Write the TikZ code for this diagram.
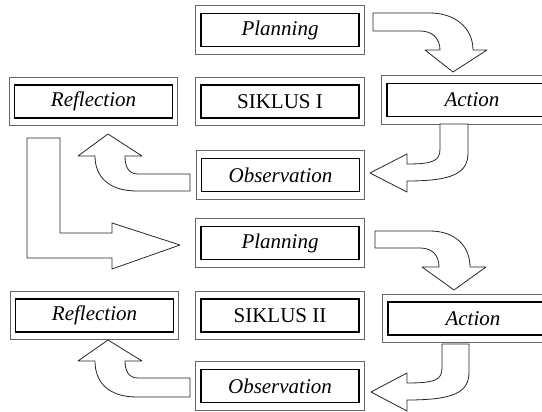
\documentclass[tikz,border=0pt]{standalone}
\usepackage{fontspec}
\setmainfont{Liberation Serif}
\begin{document}
\begin{tikzpicture}[x=1pt,y=-1pt,
  inbox/.style={draw=black, line width=1.1pt, minimum width=158pt, minimum height=33pt,
    inner sep=0pt, font=\fontsize{21}{25}\selectfont\itshape},
  upbox/.style={inbox, font=\fontsize{21}{25}\selectfont\upshape},
  outframe/.style={draw=black!60, line width=1pt},
  fat/.style={draw=black!85, line width=0.8pt, fill=white, line join=round}]
\useasboundingbox (0,0) rectangle (542,412);
\clip (0,0) rectangle (542,412);

% boxes
\node[inbox] (p1) at (280,30) {Planning};
\node[upbox] (s1) at (280,101.5) {SIKLUS I};
\node[inbox] (o1) at (280.5,175) {Observation};
\node[inbox] (p2) at (280,243) {Planning};
\node[upbox] (s2) at (280,315.5) {SIKLUS II};
\node[inbox] (o2) at (280,386) {Observation};
\node[inbox] (r1) at (93.5,101.5) {Reflection};
\node[inbox] (r2) at (94.5,315.5) {Reflection};
\node[inbox, minimum width=170pt] (a1) at (472,100) {Action};
\node[inbox, minimum width=170pt] (a2) at (473,318.5) {Action};

\foreach \n in {p1,s1,o1,p2,s2,o2,r1,r2,a1,a2}
  \draw[outframe] ([shift={(-4.5,-7)}]\n.north west) rectangle ([shift={(4.5,7)}]\n.south east);

% Planning -> Action (cycle I)
\draw[fat] (373,13) -- (430,13) .. controls (455,13) and (473,28) .. (473,50)
  -- (487,50) -- (453,72) -- (425,50) -- (440,50)
  .. controls (440,38) and (432,31) .. (420,31) -- (373,31) -- cycle;
% Action -> Observation (cycle I)
\draw[fat] (440,124) -- (440,149) .. controls (440,161) and (433,164) .. (407,164)
  -- (407,154) -- (370,173) -- (407,192) -- (407,181)
  .. controls (453,181) and (468,173) .. (468,153) -- (468,124) -- cycle;
% Observation -> Reflection (cycle I)
\draw[fat] (190,174) -- (138,174) .. controls (128,174) and (125,166) .. (125,156)
  -- (142,156) -- (108,134) -- (78,156) -- (95,156)
  .. controls (95,176) and (108,191) .. (137,191) -- (190,191) -- cycle;
% Reflection -> Planning (big L)
\draw[fat] (27,138) -- (60,138) -- (60,233) -- (112,233) -- (112,223) -- (180,245)
  -- (112,269) -- (112,258) -- (27,258) -- cycle;
% Planning -> Action (cycle II)
\draw[fat] (375,231) -- (430,231) .. controls (455,231) and (470,246) .. (470,267)
  -- (486,267) -- (454,290) -- (422,267) -- (439,267)
  .. controls (439,255) and (432,248) .. (420,248) -- (375,248) -- cycle;
% Action -> Observation (cycle II)
\draw[fat] (442,344) -- (442,368) .. controls (442,380) and (435,383) .. (407,383)
  -- (407,373) -- (371,392) -- (407,411) -- (407,400)
  .. controls (455,400) and (469,392) .. (469,372) -- (469,344) -- cycle;
% Observation -> Reflection (cycle II)
\draw[fat] (190,378) -- (138,378) .. controls (128,378) and (125,370) .. (125,361)
  -- (142,361) -- (108,340) -- (78,361) -- (95,361)
  .. controls (95,382) and (108,397) .. (137,397) -- (190,397) -- cycle;
\end{tikzpicture}
\end{document}
